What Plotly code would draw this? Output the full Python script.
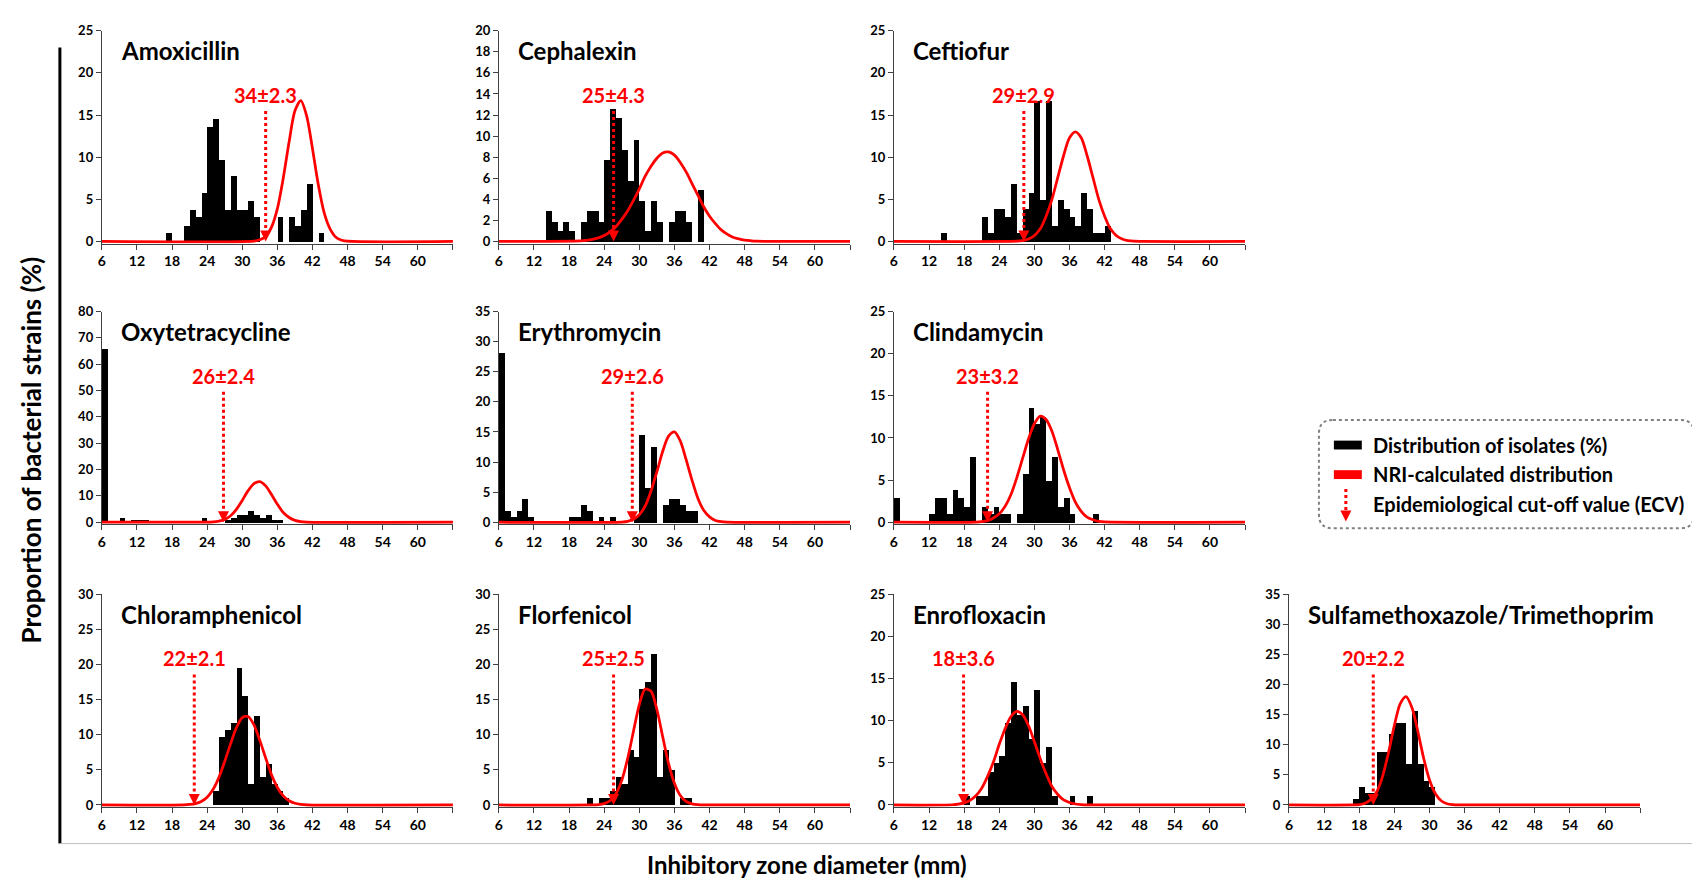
import plotly.graph_objects as go

# ---------------- data ----------------
names = ["Amoxicillin", "Cephalexin", "Ceftiofur", "Oxytetracycline", "Erythromycin",
         "Clindamycin", "Chloramphenicol", "Florfenicol", "Enrofloxacin",
         "Sulfamethoxazole/Trimethoprim"]
ecv_labels = ["34±2.3", "25±4.3", "29±2.9", "26±2.4", "29±2.6", "23±3.2",
              "22±2.1", "25±2.5", "18±3.6", "20±2.2"]
ecv_arrow_x = [34, 25.6, 28.2, 26.8, 28.8, 22, 21.8, 25.6, 17.9, 20.4]
y_max = [25, 20, 25, 80, 35, 25, 30, 30, 25, 35]
y_step = [5, 2, 5, 10, 5, 5, 5, 5, 5, 5]
x_ticks = [6, 12, 18, 24, 30, 36, 42, 48, 54, 60, 66]
x_ticklabels = ["6", "12", "18", "24", "30", "36", "42", "48", "54", "60", ""]

amox_bins = [17, 20, 21, 22, 23, 24, 25, 26, 27, 28, 29, 30, 31, 32, 36, 38, 39, 40, 41, 43]
amox_pct = [1.0, 1.9, 3.8, 2.9, 5.8, 13.6, 14.5, 9.7, 3.8, 7.8, 3.8, 3.8, 4.8, 2.9, 2.9, 2.9, 1.9, 3.8, 6.8, 1.0]
amox_cx = [6, 32, 33, 34, 35, 36, 37, 38, 39, 40, 41, 42, 43, 44, 45, 46, 47, 48, 66]
amox_cy = [0, 0.05, 0.2, 0.6, 1.7, 3.9, 7.5, 11.8, 15.5, 16.7, 14.9, 11.0, 6.7, 3.4, 1.5, 0.5, 0.15, 0.03, 0]

ceph_bins = [14, 15, 16, 17, 18, 20, 21, 22, 23, 24, 25, 26, 27, 28, 29, 30, 31, 32, 33, 35, 36, 37, 38, 40]
ceph_pct = [2.9, 1.9, 1.0, 1.9, 1.0, 1.9, 2.9, 2.9, 1.9, 7.8, 12.6, 11.7, 8.7, 5.8, 9.7, 3.9, 1.0, 3.9, 1.9, 1.9, 2.9, 2.9, 1.9, 4.9]
ceph_cx = [6, 20, 21, 22, 23, 24, 25, 26, 27, 28, 29, 30, 31, 32, 33, 34, 35, 36, 37, 38, 39, 40, 41, 42, 43, 44, 45, 46, 47, 48, 49, 50, 66]
ceph_cy = [0, 0.05, 0.1, 0.19, 0.34, 0.56, 0.92, 1.4, 2.1, 2.9, 3.9, 5.0, 6.2, 7.15, 7.9, 8.4, 8.5, 8.2, 7.5, 6.6, 5.5, 4.4, 3.3, 2.4, 1.7, 1.1, 0.7, 0.4, 0.24, 0.13, 0.07, 0.03, 0]

ceft_bins = [14, 21, 22, 23, 24, 25, 26, 27, 28, 29, 30, 31, 32, 33, 34, 35, 36, 37, 38, 39, 40, 41, 42]
ceft_pct = [1.0, 2.9, 1.0, 3.9, 3.9, 2.9, 6.8, 1.0, 3.9, 5.8, 16.7, 4.9, 16.7, 1.9, 4.9, 3.9, 2.9, 1.9, 5.8, 3.9, 1.0, 1.0, 1.9]
ceft_cx = [6, 27, 28, 29, 30, 31, 32, 33, 34, 35, 36, 37, 38, 39, 40, 41, 42, 43, 44, 45, 46, 47, 66]
ceft_cy = [0, 0.03, 0.1, 0.3, 0.7, 1.5, 3.0, 5.0, 7.6, 10.2, 12.3, 13.0, 12.3, 10.2, 7.6, 5.0, 3.0, 1.5, 0.7, 0.3, 0.1, 0.03, 0]

oxy_bins = [6, 9, 11, 12, 13, 23, 27, 28, 29, 30, 31, 32, 33, 34, 35, 36]
oxy_pct = [66.0, 1.9, 1.0, 1.0, 1.0, 1.9, 1.0, 1.9, 2.9, 2.9, 4.3, 3.1, 1.9, 2.9, 1.0, 1.0]
oxy_cx = [6, 24, 25, 26, 27, 28, 29, 30, 31, 32, 33, 34, 35, 36, 37, 38, 39, 40, 41, 66]
oxy_cy = [0, 0.03, 0.12, 0.4, 1.05, 2.45, 4.9, 8.3, 12.0, 14.7, 15.45, 13.8, 10.5, 6.8, 3.7, 1.8, 0.7, 0.25, 0.07, 0]

ery_bins = [6, 7, 8, 9, 10, 11, 18, 19, 20, 21, 23, 25, 29, 30, 31, 32, 34, 35, 36, 37, 38, 39]
ery_pct = [28.2, 1.9, 1.0, 1.9, 3.9, 1.0, 1.0, 1.0, 2.9, 1.9, 1.0, 1.0, 1.0, 14.6, 5.8, 12.6, 2.9, 3.9, 3.9, 2.9, 1.9, 1.9]
ery_cx = [6, 27, 28, 29, 30, 31, 32, 33, 34, 35, 36, 37, 38, 39, 40, 41, 42, 43, 44, 45, 66]
ery_cy = [0, 0.04, 0.15, 0.5, 1.25, 2.7, 5.2, 8.4, 11.8, 14.3, 15.0, 13.5, 10.4, 7.0, 4.0, 2.0, 0.9, 0.3, 0.1, 0.03, 0]

clin_bins = [6, 12, 13, 14, 15, 16, 17, 18, 19, 21, 22, 23, 24, 25, 27, 28, 29, 30, 31, 32, 33, 34, 35, 36, 40]
clin_pct = [2.9, 1.0, 2.9, 2.9, 1.0, 3.9, 2.9, 1.9, 7.8, 1.9, 1.0, 1.9, 1.0, 1.0, 1.0, 5.8, 13.6, 11.7, 12.6, 4.9, 7.8, 1.9, 2.9, 1.0, 1.0]
clin_cx = [6, 20, 21, 22, 23, 24, 25, 26, 27, 28, 29, 30, 31, 32, 33, 34, 35, 36, 37, 38, 39, 40, 41, 42, 66]
clin_cy = [0, 0.02, 0.07, 0.2, 0.5, 1.0, 1.9, 3.3, 5.3, 7.6, 9.9, 11.7, 12.6, 12.2, 10.8, 8.6, 6.2, 4.1, 2.4, 1.3, 0.6, 0.3, 0.1, 0.03, 0]

chlor_bins = [25, 26, 27, 28, 29, 30, 31, 32, 33, 34, 35, 36, 37]
chlor_pct = [1.9, 9.7, 10.7, 11.7, 19.4, 15.5, 2.9, 12.6, 3.9, 5.8, 2.9, 1.9, 1.0]
chlor_cx = [6, 20, 21, 22, 23, 24, 25, 26, 27, 28, 29, 30, 31, 32, 33, 34, 35, 36, 37, 38, 39, 40, 41, 66]
chlor_cy = [0, 0.03, 0.08, 0.2, 0.5, 1.1, 2.2, 3.9, 6.2, 8.7, 11.0, 12.45, 12.6, 11.4, 9.2, 6.7, 4.3, 2.5, 1.3, 0.6, 0.25, 0.1, 0.03, 0]

flor_bins = [21, 23, 24, 25, 26, 27, 28, 29, 30, 31, 32, 33, 34, 35, 37, 38]
flor_pct = [1.0, 1.0, 1.0, 1.9, 3.9, 2.9, 7.8, 6.8, 16.5, 17.5, 21.4, 3.9, 7.8, 4.9, 1.0, 1.0]
flor_cx = [6, 22, 23, 24, 25, 26, 27, 28, 29, 30, 31, 32, 33, 34, 35, 36, 37, 38, 39, 40, 41, 66]
flor_cy = [0, 0.01, 0.05, 0.2, 0.6, 1.6, 3.5, 6.6, 10.5, 14.3, 16.5, 16.2, 13.6, 9.7, 5.9, 3.1, 1.35, 0.5, 0.17, 0.05, 0.01, 0]

enro_bins = [18, 20, 21, 22, 23, 24, 25, 26, 27, 28, 29, 30, 31, 32, 33, 36, 39]
enro_pct = [1.0, 1.0, 1.0, 3.9, 4.9, 5.8, 9.7, 14.6, 10.7, 11.7, 7.8, 13.6, 4.9, 6.8, 1.0, 1.0, 1.0]
enro_cx = [6, 16, 17, 18, 19, 20, 21, 22, 23, 24, 25, 26, 27, 28, 29, 30, 31, 32, 33, 34, 35, 36, 37, 38, 39, 66]
enro_cy = [0, 0.03, 0.1, 0.25, 0.55, 1.1, 2.0, 3.4, 5.1, 7.2, 9.05, 10.5, 11.1, 10.7, 9.4, 7.5, 5.5, 3.7, 2.2, 1.25, 0.6, 0.3, 0.12, 0.05, 0.02, 0]

sxt_bins = [17, 18, 19, 20, 21, 22, 23, 24, 25, 26, 27, 28, 29, 30]
sxt_pct = [1.0, 2.9, 1.9, 1.9, 8.7, 8.7, 11.7, 13.6, 13.6, 6.8, 15.5, 6.8, 3.9, 2.9]
sxt_cx = [6, 17, 18, 19, 20, 21, 22, 23, 24, 25, 26, 27, 28, 29, 30, 31, 32, 33, 34, 35, 66]
sxt_cy = [0, 0.02, 0.07, 0.3, 0.9, 2.2, 4.8, 8.7, 13.2, 16.8, 18.0, 16.2, 12.3, 7.8, 4.2, 1.9, 0.7, 0.2, 0.06, 0.02, 0]

bins_all = [amox_bins, ceph_bins, ceft_bins, oxy_bins, ery_bins, clin_bins, chlor_bins, flor_bins, enro_bins, sxt_bins]
pct_all = [amox_pct, ceph_pct, ceft_pct, oxy_pct, ery_pct, clin_pct, chlor_pct, flor_pct, enro_pct, sxt_pct]
cx_all = [amox_cx, ceph_cx, ceft_cx, oxy_cx, ery_cx, clin_cx, chlor_cx, flor_cx, enro_cx, sxt_cx]
cy_all = [amox_cy, ceph_cy, ceft_cy, oxy_cy, ery_cy, clin_cy, chlor_cy, flor_cy, enro_cy, sxt_cy]

# ---------------- layout geometry (pixels) ----------------
W, H = 1700, 878
grid_pos = [(0, 0), (0, 1), (0, 2), (1, 0), (1, 1), (1, 2), (2, 0), (2, 1), (2, 2), (2, 3)]
col_left = [90, 488, 884, 1280]
plot_w = 352
row_top = [15, 300, 587]
plot_h = 216

FONT = "Lato"
RED = "#FF0000"
AXIS_COL = "#404040"


def px(x):
    return x / W


def py(y):
    return 1 - y / H


fig = go.Figure()
layout = dict(width=W, height=H, margin=dict(l=0, r=0, t=0, b=0),
              paper_bgcolor="white", plot_bgcolor="white", showlegend=False,
              bargap=0, barmode="overlay")
annotations = []
shapes = []

for i in range(10):
    n = i + 1
    s = "" if n == 1 else str(n)
    r, c = grid_pos[i]
    x0 = col_left[c]
    y0 = row_top[r]
    ym = y_max[i]

    fig.add_trace(go.Bar(x=[b + 0.5 for b in bins_all[i]], y=pct_all[i], width=1,
                         marker=dict(color="black", line=dict(width=0)),
                         xaxis="x" + s, yaxis="y" + s, hoverinfo="x+y"))
    fig.add_trace(go.Scatter(x=cx_all[i], y=cy_all[i], mode="lines",
                             line=dict(color=RED, width=2.75, shape="spline", smoothing=0.8),
                             xaxis="x" + s, yaxis="y" + s))

    layout["xaxis" + s] = dict(domain=[px(x0), px(x0 + plot_w)], anchor="y" + s,
                               range=[6, 66], tickmode="array", tickvals=x_ticks,
                               ticktext=x_ticklabels, ticks="outside", ticklen=5,
                               tickcolor=AXIS_COL, showline=True, linecolor=AXIS_COL,
                               linewidth=1, showgrid=False, zeroline=False,
                               tickfont=dict(family=FONT, size=14, color="black", weight="bold"))
    layout["yaxis" + s] = dict(domain=[py(y0 + plot_h), py(y0)], anchor="x" + s,
                               range=[-0.01 * ym, ym], tickmode="linear", tick0=0, dtick=y_step[i],
                               ticks="outside", ticklen=5, tickcolor=AXIS_COL,
                               showline=True, linecolor=AXIS_COL, linewidth=1,
                               showgrid=False, zeroline=False,
                               tickfont=dict(family=FONT, size=13, color="black", weight="bold"))

    # panel title
    annotations.append(dict(xref="x" + s + " domain", yref="y" + s + " domain",
                            x=17 / plot_w, y=1 - 20 / plot_h, xanchor="left", yanchor="middle",
                            text=names[i], showarrow=False,
                            font=dict(family=FONT, size=24, color="black", weight="bold")))
    # ECV label
    annotations.append(dict(xref="x" + s, yref="y" + s + " domain",
                            x=ecv_arrow_x[i], y=1 - 65 / plot_h, xanchor="center", yanchor="middle",
                            text=ecv_labels[i], showarrow=False,
                            font=dict(family=FONT, size=20, color=RED, weight="bold")))
    # ECV dotted arrow shaft
    shapes.append(dict(type="line", xref="x" + s, yref="y" + s + " domain",
                       x0=ecv_arrow_x[i], x1=ecv_arrow_x[i], y0=0.045, y1=1 - 80 / plot_h,
                       line=dict(color=RED, width=3, dash="dot")))
    # arrow head
    annotations.append(dict(xref="x" + s, yref="y" + s, x=ecv_arrow_x[i], y=0,
                            ax=0, ay=-7, showarrow=True, arrowhead=2, arrowsize=1.1,
                            arrowwidth=2, arrowcolor=RED, text="", standoff=0))

# frame lines
shapes.append(dict(type="line", xref="paper", yref="paper", x0=px(48), x1=px(48),
                   y0=py(32), y1=py(840), line=dict(color="black", width=3)))
shapes.append(dict(type="line", xref="paper", yref="paper", x0=px(48), x1=px(1700),
                   y0=py(840), y1=py(840), line=dict(color="#c0c0c0", width=1)))

# axis titles
annotations.append(dict(xref="paper", yref="paper", x=px(20), y=py(440), textangle=-90,
                        text="Proportion of bacterial strains (%)", showarrow=False,
                        xanchor="center", yanchor="middle",
                        font=dict(family=FONT, size=26, color="black", weight="bold")))
annotations.append(dict(xref="paper", yref="paper", x=px(797), y=py(861),
                        text="Inhibitory zone diameter (mm)", showarrow=False,
                        xanchor="center", yanchor="middle",
                        font=dict(family=FONT, size=24, color="black", weight="bold")))

# legend box (rounded dotted rectangle)
L, R, T, B, rad = 1310, 1686, 410, 520, 14
path = (f"M {px(L + rad)},{py(T)} L {px(R - rad)},{py(T)} Q {px(R)},{py(T)} {px(R)},{py(T + rad)} "
        f"L {px(R)},{py(B - rad)} Q {px(R)},{py(B)} {px(R - rad)},{py(B)} "
        f"L {px(L + rad)},{py(B)} Q {px(L)},{py(B)} {px(L)},{py(B - rad)} "
        f"L {px(L)},{py(T + rad)} Q {px(L)},{py(T)} {px(L + rad)},{py(T)} Z")
shapes.append(dict(type="path", xref="paper", yref="paper", path=path,
                   line=dict(color="#808080", width=2, dash="dot")))
shapes.append(dict(type="rect", xref="paper", yref="paper", x0=px(1325), x1=px(1353),
                   y0=py(440), y1=py(431), fillcolor="black", line=dict(width=0)))
shapes.append(dict(type="rect", xref="paper", yref="paper", x0=px(1325), x1=px(1353),
                   y0=py(470), y1=py(461), fillcolor=RED, line=dict(width=0)))
shapes.append(dict(type="line", xref="paper", yref="paper", x0=px(1337), x1=px(1337),
                   y0=py(480), y1=py(506), line=dict(color=RED, width=3, dash="dot")))
annotations.append(dict(xref="paper", yref="paper", x=px(1337), y=py(513), ax=0, ay=-7,
                        showarrow=True, arrowhead=2, arrowsize=1.1, arrowwidth=2,
                        arrowcolor=RED, text="", standoff=0))
legend_texts = ["Distribution of isolates (%)", "NRI-calculated distribution",
                "Epidemiological cut-off value (ECV)"]
for t, yy in zip(legend_texts, [435, 465, 495]):
    annotations.append(dict(xref="paper", yref="paper", x=px(1362), y=py(yy), text=t,
                            showarrow=False, xanchor="left", yanchor="middle",
                            font=dict(family=FONT, size=20, color="black", weight="bold")))

layout["annotations"] = annotations
layout["shapes"] = shapes
fig.update_layout(**layout)
fig.write_html("out.html")
